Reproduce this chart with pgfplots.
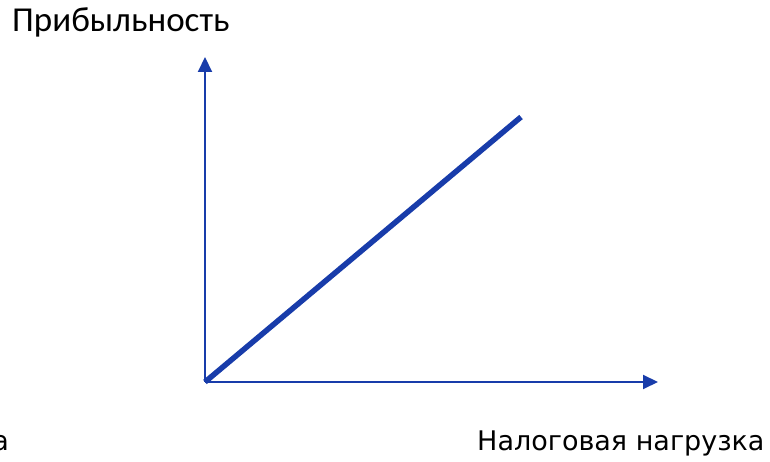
\documentclass[border=0pt]{standalone}
\usepackage{fontspec}
\setmainfont{DejaVu Sans}
\newfontfamily\carlito{Carlito}
\usepackage{pgfplots}
\pgfplotsset{compat=1.18}
\usetikzlibrary{arrows.meta}
\definecolor{lineblue}{RGB}{24,60,170}
\begin{document}
\begin{tikzpicture}[x=1pt,y=1pt]
\useasboundingbox (0,0) rectangle (770,462);
\begin{axis}[
  at={(205pt,80pt)}, anchor=origin,
  scale only axis, width=453pt, height=325pt,
  xmin=0, xmax=453, ymin=0, ymax=325,
  axis lines=left,
  axis line style={lineblue, line width=2pt, -{Triangle[length=15pt,width=14pt]}},
  xtick=\empty, ytick=\empty,
  clip=false,
]
\addplot[lineblue, line width=5.5pt, line cap=butt] coordinates {(0,0) (316,265)};
\end{axis}
\node[anchor=base west, font=\carlito\fontsize{35}{40}\selectfont, inner sep=0pt] at (12,430) {Прибыльность};
\node[anchor=base west, font=\fontsize{27}{32}\selectfont, inner sep=0pt] at (477,11) {Налоговая нагрузка};
\node[anchor=base east, font=\fontsize{27}{32}\selectfont, inner sep=0pt] at (9,11) {а};
\end{tikzpicture}
\end{document}
